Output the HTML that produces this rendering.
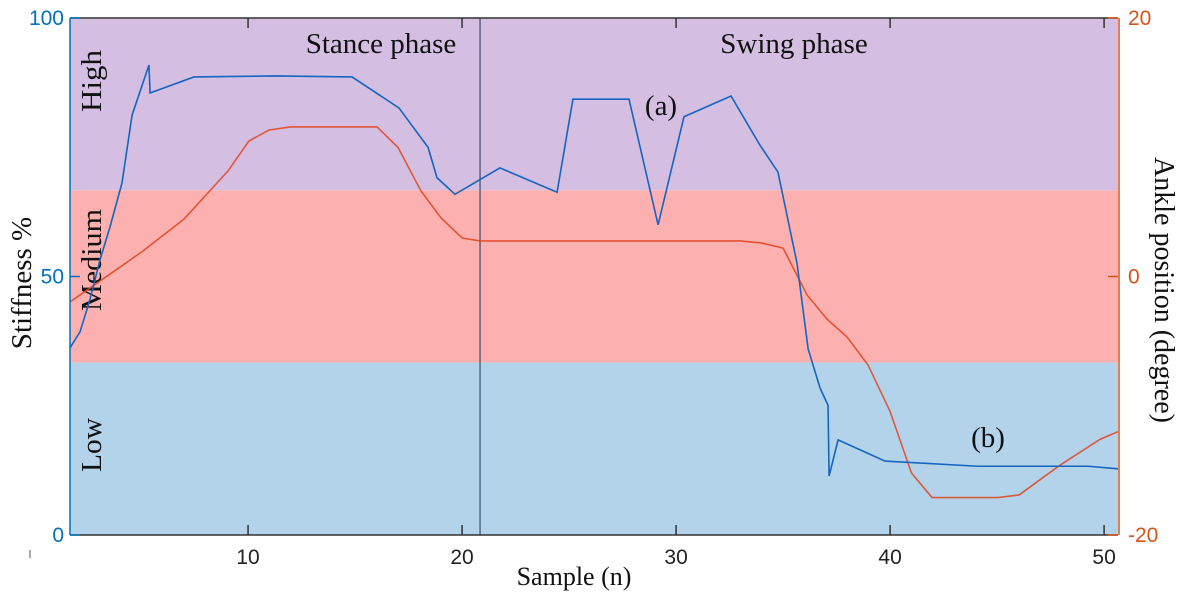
<!DOCTYPE html>
<html><head><meta charset="utf-8"><style>
body{margin:0;background:#fff}
svg text{font-family:"Liberation Serif",serif}
.s{font-family:"Liberation Sans",sans-serif}
</style></head><body>
<svg id="c" width="1184" height="600" viewBox="0 0 1184 600" xmlns="http://www.w3.org/2000/svg"></svg>
<script>
const sampleX=[1.68,2.15,2.61,3.08,3.55,4.11,4.58,5.37,5.42,7.47,11.26,14.86,17.05,18.41,18.83,19.67,21.77,24.44,25.18,27.8,29.16,30.37,32.57,33.92,34.76,35.65,36.17,36.73,37.1,37.15,37.57,39.76,44.11,49.25,50.65];
const stiffness=[36.2,39.3,45.5,53.2,59.6,68.1,81.2,90.9,85.5,88.6,88.8,88.6,82.6,75.0,69.1,65.9,71.0,66.3,84.3,84.3,60.0,80.9,84.9,75.4,70.2,52.6,36.0,28.4,25.1,11.4,18.4,14.3,13.3,13.3,12.8];
const angleX=[1.68,5.09,7.01,9.06,10.04,10.98,11.96,16.03,17.01,18.08,19.02,20.0,20.84,33.0,34.02,35.0,36.12,37.05,37.99,38.97,39.99,41.0,41.96,45.04,46.03,47.94,49.81,50.65];
const angle=[-1.97,1.97,4.45,8.16,10.48,11.33,11.57,11.57,9.98,6.62,4.53,2.98,2.75,2.75,2.59,2.2,-1.43,-3.29,-4.68,-6.85,-10.4,-15.2,-17.1,-17.1,-16.9,-14.6,-12.6,-12.0];
const xTicks=[10,20,30,40,50];
const leftTicks=[0,50,100];
const rightTicks=[-20,0,20];
const bands=[{name:'High',lo:66.67,hi:100,c:'#d4bfe3'},{name:'Medium',lo:33.33,hi:66.67,c:'#fdb0b0'},{name:'Low',lo:0,hi:33.33,c:'#b3d3eb'}];

const L=70,R=1118,T=18,B=535,XMIN=1.68,XMAX=50.65;
const sx=v=>L+(v-XMIN)/(XMAX-XMIN)*(R-L);
const sy=v=>B-v/100*(B-T);
const ay=v=>B-(v+20)/40*(B-T);
const svg=document.getElementById('c');
const NS='http://www.w3.org/2000/svg';
function mk(tag,attrs,txt){const e=document.createElementNS(NS,tag);for(const k in attrs)e.setAttribute(k,attrs[k]);if(txt!=null)e.textContent=txt;svg.appendChild(e);return e;}

bands.forEach(b=>{
  const r=mk('rect',{x:L,y:sy(b.hi),width:R-L,height:sy(b.lo)-sy(b.hi),fill:b.c});
  
  
});
const bandLabelY={High:81,Medium:260,Low:445};
const bandLabelLen={High:62,Medium:102,Low:54};
bands.forEach(b=>{
  const t=mk('text',{x:0,y:0,'font-size':29,fill:'#111','text-anchor':'middle',textLength:bandLabelLen[b.name],lengthAdjust:'spacingAndGlyphs',transform:`translate(101,${bandLabelY[b.name]}) rotate(-90)`},b.name);
  
  
});
let d=mk('line',{x1:sx(20.84),x2:sx(20.84),y1:T,y2:B,stroke:'#223355','stroke-width':1});



let p=mk('polyline',{points:angleX.map((x,i)=>sx(x)+','+ay(angle[i])).join(' '),fill:'none',stroke:'#e0441c','stroke-width':1.6,'stroke-opacity':0.85});


p=mk('polyline',{points:sampleX.map((x,i)=>sx(x)+','+sy(stiffness[i])).join(' '),fill:'none',stroke:'#1565c0','stroke-width':1.6});



let a=mk('line',{x1:L,x2:R,y1:T,y2:T,stroke:'#333','stroke-width':1.5});

a=mk('line',{x1:L,x2:R,y1:B,y2:B,stroke:'#333','stroke-width':1.5});

a=mk('line',{x1:L,x2:L,y1:T,y2:B,stroke:'#0072bd','stroke-width':1.5});

a=mk('line',{x1:R+1,x2:R+1,y1:T,y2:B,stroke:'#d95319','stroke-width':1.5});


xTicks.forEach(v=>{
  const x=sx(v);
  mk('line',{x1:x,x2:x,y1:T,y2:T+10,stroke:'#333','stroke-width':1.5});
  mk('line',{x1:x,x2:x,y1:B,y2:B-10,stroke:'#333','stroke-width':1.5});
  const t=mk('text',{x:x,y:B+29,'font-size':21,fill:'#222','text-anchor':'middle',class:'s'},v);
  
  
});
leftTicks.forEach(v=>{
  const y=sy(v);
  mk('line',{x1:L,x2:L+10,y1:y,y2:y,stroke:'#0072bd','stroke-width':1.5});
  const t=mk('text',{x:L-6,y:y+7,'font-size':21,fill:'#0072bd','text-anchor':'end',class:'s'},v);
  
  
});
rightTicks.forEach(v=>{
  const y=ay(v);
  mk('line',{x1:R-10,x2:R,y1:y,y2:y,stroke:'#d95319','stroke-width':1.5});
  const t=mk('text',{x:R+10,y:y+7,'font-size':21,fill:'#d95319','text-anchor':'start',class:'s'},v);
  
  
});
</script>
<svg width="1184" height="600" style="position:absolute;left:0;top:0" xmlns="http://www.w3.org/2000/svg">
<text x="381" y="53" font-size="29" text-anchor="middle" fill="#111">Stance phase</text>
<text x="794" y="53" font-size="29" text-anchor="middle" fill="#111">Swing phase</text>
<text x="661" y="115" font-size="29" text-anchor="middle" fill="#111">(a)</text>
<text x="988" y="447" font-size="29" text-anchor="middle" fill="#111">(b)</text>
<text transform="translate(31,283) rotate(-90)" font-size="29" text-anchor="middle" fill="#111">Stiffness %</text>
<text transform="translate(1155,290) rotate(90)" font-size="28" text-anchor="middle" fill="#111">Ankle position (degree)</text>
<text x="574" y="585" font-size="26" text-anchor="middle" fill="#111">Sample (n)</text>
<line x1="30" y1="550" x2="30" y2="558" stroke="#555" stroke-width="1"/>
</svg>
</body></html>
